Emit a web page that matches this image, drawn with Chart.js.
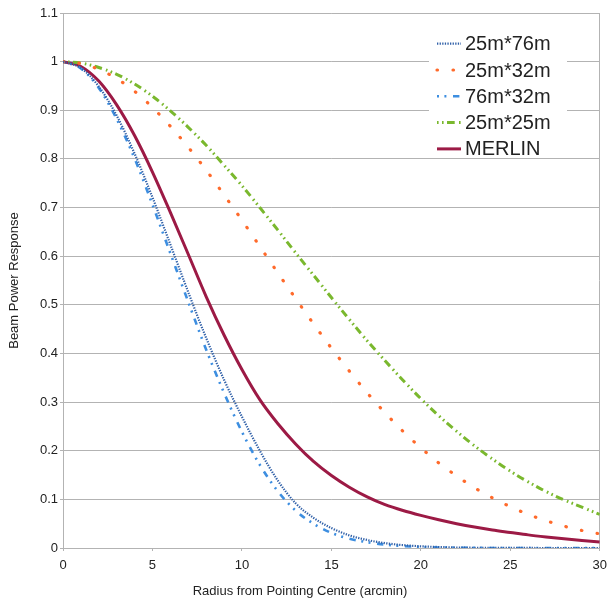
<!DOCTYPE html>
<html>
<head>
<meta charset="utf-8">
<script src="https://cdn.jsdelivr.net/npm/chart.js@4.4.1/dist/chart.umd.min.js"></script>
<style>
  html, body { margin: 0; padding: 0; background: #ffffff; }
  #wrap { width: 614px; height: 599px; }
</style>
</head>
<body>
<div id="wrap"><canvas id="c" width="614" height="599"></canvas></div>
<script>
// ---- data ----
const radius = [0,1,2,3,4,5,6,7,8,9,10,11,12,13,14,15,16,17,18,19,20,21,22,23,24,25,26,27,28,29,30];
const beam25x76 = [1,0.987,0.949,0.889,0.811,0.721,0.624,0.526,0.432,0.346,0.270,0.200,0.139,0.092,0.062,0.041,0.026,0.0165,0.010,0.006,0.0035,0.002,0.001,0.0005,0.0003,0.0002,0.0001,0,0,0,0];
const beam25x32 = [1,0.996,0.984,0.965,0.939,0.906,0.867,0.824,0.777,0.726,0.674,0.620,0.566,0.513,0.461,0.411,0.364,0.319,0.278,0.240,0.206,0.175,0.148,0.124,0.103,0.085,0.069,0.056,0.045,0.036,0.029];
const beam76x32 = [1,0.986,0.946,0.882,0.801,0.706,0.606,0.506,0.408,0.319,0.239,0.171,0.117,0.077,0.050,0.031,0.019,0.012,0.007,0.004,0.002,0.001,0.0006,0.0003,0.0001,0,0,0,0,0,0];
const beam25x25 = [1,0.997,0.988,0.974,0.954,0.929,0.899,0.865,0.828,0.787,0.745,0.700,0.654,0.607,0.561,0.515,0.470,0.426,0.385,0.345,0.307,0.272,0.240,0.210,0.183,0.158,0.136,0.116,0.099,0.084,0.069];
const merlin = [1,0.990,0.960,0.911,0.848,0.773,0.690,0.604,0.517,0.438,0.367,0.305,0.256,0.214,0.178,0.149,0.125,0.105,0.089,0.077,0.067,0.058,0.050,0.043,0.037,0.032,0.027,0.0228,0.019,0.0155,0.0125];
const seriesNames = ['25m*76m', '25m*32m', '76m*32m', '25m*25m', 'MERLIN'];
const xTitle = 'Radius from Pointing Centre (arcmin)';
const yTitle = 'Beam Power Response';

const FONT = "'Liberation Sans', Arial, sans-serif";
const GRID = '#b3b3b3';
const TXT = '#222222';

function pts(vals) { return radius.map((r, i) => ({ x: r, y: vals[i] })); }

const styles = [
  { color: '#3060a8', width: 2.2, dash: [1.3, 1.3], cap: 'butt' },
  { color: '#ff6a2b', width: 3.2, dash: [0.5, 15.5], cap: 'round' },
  { color: '#3d8ee0', width: 2.6, dash: [2, 5.4, 2, 6.6, 6.4, 5.6], cap: 'butt' },
  { color: '#7ab82e', width: 3, dash: [1.6, 3.4, 1.6, 3.4, 7.7, 4.3], cap: 'butt' },
  { color: '#9c1a45', width: 3, dash: [], cap: 'butt' }
];
const seriesValues = [beam25x76, beam25x32, beam76x32, beam25x25, merlin];

const datasets = seriesValues.map((vals, i) => ({
  label: seriesNames[i],
  data: pts(vals),
  borderColor: styles[i].color,
  backgroundColor: styles[i].color,
  borderWidth: styles[i].width,
  borderDash: styles[i].dash,
  borderCapStyle: styles[i].cap,
  pointRadius: 0,
  pointHoverRadius: 0,
  fill: false,
  cubicInterpolationMode: 'monotone'
}));

// legend box drawn inside the plot area (white background over gridlines)
const insideLegend = {
  id: 'insideLegend',
  beforeDatasetsDraw(chart) {
    const ctx = chart.ctx;
    const box = { x: 429, y: 31, w: 138, h: 127 };
    ctx.save();
    ctx.fillStyle = '#ffffff';
    ctx.fillRect(box.x, box.y, box.w, box.h);
    chart.data.datasets.forEach((ds, i) => {
      const cy = 43.7 + i * 26.3;
      ctx.save();
      ctx.strokeStyle = ds.borderColor;
      ctx.lineWidth = ds.borderWidth;
      ctx.lineCap = ds.borderCapStyle;
      ctx.setLineDash(ds.borderDash);
      ctx.beginPath();
      ctx.moveTo(437, cy);
      ctx.lineTo(461, cy);
      ctx.stroke();
      ctx.restore();
      ctx.fillStyle = TXT;
      ctx.font = '20px ' + FONT;
      ctx.textBaseline = 'middle';
      ctx.textAlign = 'left';
      ctx.fillText(ds.label, 465, cy + 1);
    });
    ctx.restore();
  }
};

new Chart(document.getElementById('c'), {
  type: 'line',
  data: { datasets },
  plugins: [insideLegend],
  options: {
    responsive: false,
    animation: false,
    events: [],
    layout: { padding: { left: 0, right: 14, top: 13, bottom: 0 } },
    plugins: {
      legend: { display: false },
      tooltip: { enabled: false },
      title: {
        display: true,
        position: 'bottom',
        text: xTitle,
        color: TXT,
        font: { family: FONT, size: 13, weight: 'normal' },
        padding: { top: 0, bottom: 0 }
      }
    },
    scales: {
      x: {
        type: 'linear',
        min: 0, max: 30,
        afterFit(s) { s.height = 35.4; },
        ticks: { stepSize: 5, color: TXT, font: { family: FONT, size: 13 }, padding: 7, maxRotation: 0 },
        grid: {
          color: (c) => (c.tick && (c.tick.value === 0 || c.tick.value === 30)) ? GRID : 'rgba(0,0,0,0)',
          tickColor: GRID,
          tickLength: 3,
          drawOnChartArea: true
        },
        border: { display: true, color: GRID }
      },
      y: {
        min: 0, max: 1.1,
        afterFit(s) { s.width = 63; },
        ticks: {
          stepSize: 0.1,
          color: TXT,
          font: { family: FONT, size: 13 },
          padding: 2,
          callback: (v) => String(Math.round(v * 10) / 10)
        },
        grid: { color: GRID, tickColor: GRID, tickLength: 3 },
        border: { display: true, color: GRID },
        title: {
          display: true,
          text: yTitle,
          color: TXT,
          font: { family: FONT, size: 13 },
          padding: { top: 7, bottom: 0 }
        }
      }
    }
  }
});
</script>
</body>
</html>
